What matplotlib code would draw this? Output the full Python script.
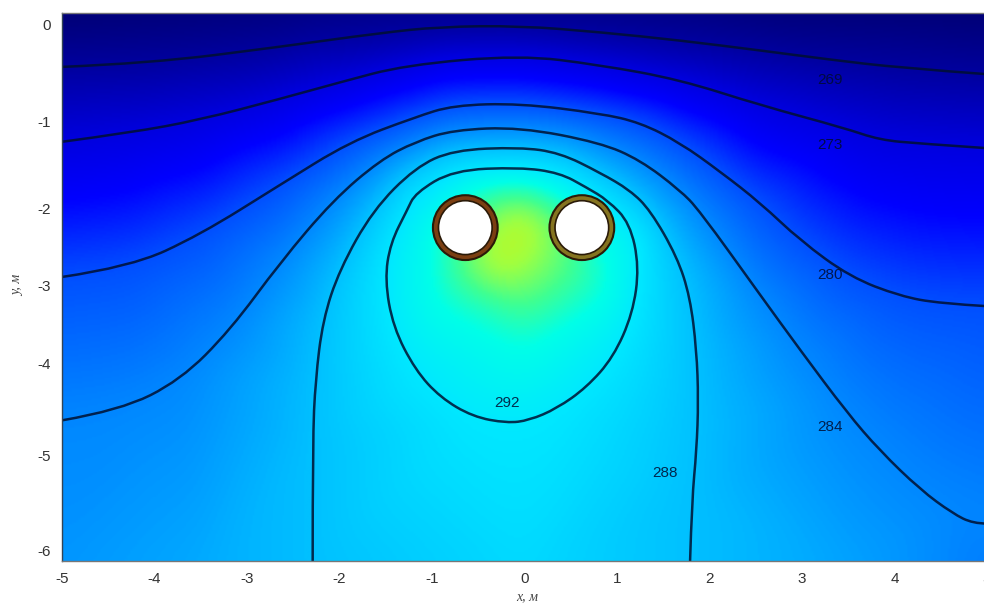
import numpy as np
import matplotlib
matplotlib.use("Agg")
import matplotlib.pyplot as plt
import matplotlib.tri as mtri
from matplotlib.colors import LinearSegmentedColormap
from matplotlib.patches import Ellipse, PathPatch
from matplotlib.path import Path

plt.rcParams["axes.unicode_minus"] = False

# isotherms (x, y in metres)
x269 = [-5, -4.05, -2.64, -1.57, -0.91, -0.05, 0.82, 1.68, 2.55, 3.30, 4.06, 5]
y269 = [-0.59, -0.55, -0.37, -0.22, -0.15, -0.14, -0.21, -0.30, -0.41, -0.51, -0.60, -0.67]
x273 = [-5, -4.26, -3.51, -2.64, -2.0, -1.29, -0.05, 0.82, 1.68, 2.55, 3.46, 3.84, 4.28, 5]
y273 = [-1.41, -1.31, -1.17, -0.94, -0.76, -0.57, -0.46, -0.57, -0.73, -1.01, -1.26, -1.39, -1.43, -1.48]
x280 = [-5, -4.26, -3.51, -2.64, -1.89, -1.18, -0.77, -0.05, 0.82, 1.25, 1.68, 2.12, 2.55, 2.98, 3.52, 4.06, 4.49, 5]
y280 = [-2.89, -2.78, -2.43, -1.88, -1.41, -1.14, -1.01, -0.99, -1.10, -1.20, -1.42, -1.74, -2.08, -2.49, -2.89, -3.10, -3.18, -3.21]
x284 = [-5, -4.37, -3.72, -3.18, -2.64, -2.07, -1.56, -1.18, -0.77, -0.05, 0.82, 1.25, 1.68, 1.89, 2.55, 2.98, 3.49, 3.84, 4.28, 4.63, 4.85, 5]
y284 = [-4.46, -4.35, -4.02, -3.47, -2.73, -2.05, -1.61, -1.41, -1.28, -1.25, -1.42, -1.61, -1.94, -2.16, -3.09, -3.69, -4.38, -4.79, -5.22, -5.48, -5.59, -5.59]
x288 = [-2.29, -2.29, -2.26, -2.18, -2.0, -1.64, -1.18, -0.77, -0.05, 0.38, 0.82, 1.14, 1.36, 1.65, 1.79, 1.86, 1.88, 1.86, 1.81, 1.79]
y288 = [-6.0, -4.68, -4.02, -3.36, -2.81, -2.16, -1.69, -1.50, -1.47, -1.53, -1.75, -1.94, -2.16, -2.67, -3.11, -3.69, -4.24, -4.79, -5.33, -6.0]
x292 = [-0.05, 0.38, 0.67, 0.90, 1.14, 1.24, 1.17, 0.96, 0.67, 0.35, 0.05, -0.19, -0.56, -0.91, -1.18, -1.42, -1.51, -1.45, -1.27, -1.18, -0.77]
y292 = [-1.69, -1.75, -1.91, -2.05, -2.30, -2.78, -3.29, -3.77, -4.10, -4.33, -4.46, -4.49, -4.42, -4.21, -3.91, -3.44, -2.92, -2.52, -2.16, -1.97, -1.72]

levels = [269, 273, 280, 284, 288, 292]
lines_x = [x269, x273, x280, x284, x288, x292]
lines_y = [y269, y273, y280, y284, y288, y292]

# temperature guesses away from the isotherms, from the colours
extra_x = [-5.1, -2.5, 0, 2.5, 5.1, -5.1, -3.5, 0, 3.5, 5.1, -0.05, -0.25, 0, 0, -0.9, 0.9, 0, -1.1, 1.15, 0]
extra_y = [0.1, 0.1, 0.1, 0.1, 0.1, -6.1, -6.1, -6.1, -6.1, -6.1, -2.3, -2.7, -3.1, -3.7, -3.1, -3.0, -1.9, -2.4, -2.4, -4.1]
extra_t = [265, 266, 266.5, 265.5, 265, 285, 286.5, 290.5, 286, 283, 303, 303, 299, 295, 295.5, 295.5, 297, 294, 294, 293.5]

# label text and where it sits
label_x = [3.30, 3.30, 3.30, 3.30, 1.52, -0.19]
label_y = [-0.73, -1.45, -2.87, -4.53, -5.04, -4.27]

pipe_x = [-0.64, 0.62]
pipe_y = [-2.35, -2.35]

xticks = [-5, -4, -3, -2, -1, 0, 1, 2, 3, 4, 5]
ytick_pos = [-0.13, -1.19, -2.14, -2.98, -3.84, -4.84, -5.89]
ytick_labels = ["0", "-1", "-2", "-3", "-4", "-5", "-6"]

cmap = LinearSegmentedColormap.from_list("temp", [
    (0.0, "#000060"), (5 / 40, "#0000a0"), (9 / 40, "#0000e0"), (12 / 40, "#0000ff"),
    (16 / 40, "#0050ff"), (20 / 40, "#0088ff"), (24 / 40, "#00c0ff"), (28 / 40, "#00e8ff"),
    (31 / 40, "#00ffe8"), (34 / 40, "#40ff90"), (37 / 40, "#a0ff40"), (1.0, "#e0f000")])


def smooth_path(xs, ys, closed=False):
    pts = np.column_stack([xs, ys])
    if closed:
        mids = (pts + np.roll(pts, -1, axis=0)) / 2
        verts = [mids[-1]]
        for p, m in zip(pts, mids):
            verts += [p, m]
    else:
        verts = [pts[0]]
        for i in range(1, len(pts) - 1):
            verts += [pts[i], (pts[i] + pts[i + 1]) / 2]
        verts[-1] = pts[-1]
    codes = [Path.MOVETO] + [Path.CURVE3] * (len(verts) - 1)
    return Path(verts, codes)


def blur(a, sigma):
    r = int(3 * sigma)
    k = np.exp(-0.5 * (np.arange(-r, r + 1) / sigma) ** 2)
    k /= k.sum()
    a = np.pad(a, r, mode="edge")
    a = np.apply_along_axis(lambda v: np.convolve(v, k, mode="same"), 0, a)
    a = np.apply_along_axis(lambda v: np.convolve(v, k, mode="same"), 1, a)
    return a[r:-r, r:-r]


fig = plt.figure(figsize=(9.84, 6.03), dpi=100)
ax = fig.add_axes([62 / 984, 42 / 603, 925 / 984, 548 / 603])

# background field, from all the read points
px = np.concatenate(lines_x + [extra_x])
py = np.concatenate(lines_y + [extra_y])
pt = np.concatenate([[lv] * len(lx) for lv, lx in zip(levels, lines_x)] + [extra_t])
tri = mtri.Triangulation(px, py)
interp = mtri.LinearTriInterpolator(tri, pt)
gx, gy = np.meshgrid(np.linspace(-5, 5, 500), np.linspace(0, -6, 300))
field = blur(np.ma.filled(interp(gx, gy), 285.0), 9)
ax.imshow(field, extent=[-5, 5, -6, 0], aspect="auto", cmap=cmap, vmin=264, vmax=304,
          interpolation="bilinear", zorder=1)

for i in range(len(levels)):
    path = smooth_path(lines_x[i], lines_y[i], closed=levels[i] == 292)
    ax.add_patch(PathPatch(path, fill=False, ec="#001030", lw=1.8, alpha=0.85, zorder=2))
    ax.text(label_x[i], label_y[i], str(levels[i]), ha="center", va="center",
            fontsize=11, family="Liberation Sans", color="#000c30", alpha=0.85, zorder=3)

ring_colors = ["#7b3f12", "#857420"]
for i in range(2):
    ax.add_patch(Ellipse((pipe_x[i], pipe_y[i]), 0.70, 0.71, fc=ring_colors[i], ec="#2a1a08", lw=1.5, zorder=4))
    ax.add_patch(Ellipse((pipe_x[i], pipe_y[i]), 0.58, 0.59, fc="white", ec="#2a1a08", lw=1.2, zorder=5))

ax.set_xlim(-5, 5)
ax.set_ylim(-6, 0)
ax.set_xticks(xticks)
ax.set_yticks(ytick_pos)
ax.set_yticklabels(ytick_labels)
ax.tick_params(length=0, labelsize=11, labelcolor="#333333")
ax.tick_params(axis="x", pad=8)
ax.tick_params(axis="y", pad=8)
for lab in ax.get_xticklabels() + ax.get_yticklabels():
    lab.set_family("Liberation Sans")
for sp in ax.spines.values():
    sp.set_color("#777777")
    sp.set_linewidth(1)
ax.spines["left"].set_color("#334455")

fig.text(527 / 984, 1 - 597 / 603, "x, м", family="Liberation Serif", style="italic",
         fontsize=10, color="#444444", ha="center", va="center")
fig.text(18 / 984, 1 - 285 / 603, "y, м", family="Liberation Serif", style="italic",
         fontsize=10, color="#444444", ha="center", va="center", rotation=90)

fig.savefig("out.png", dpi=100)
